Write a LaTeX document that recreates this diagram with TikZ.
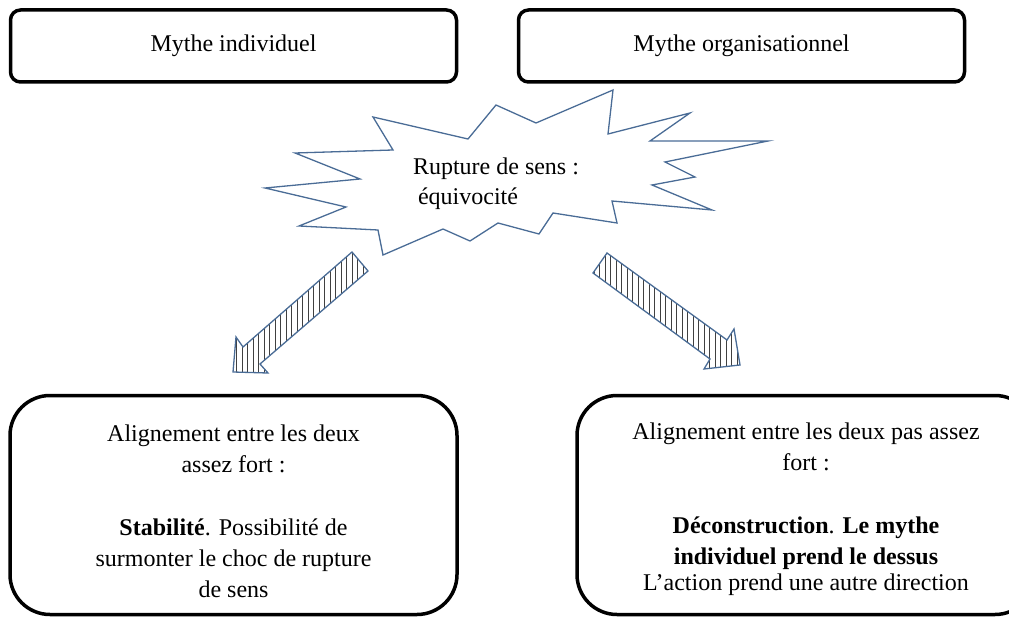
\documentclass[tikz,border=0pt]{standalone}
\usepackage{fontspec}
\setmainfont{Liberation Serif}
\usetikzlibrary{patterns.meta}
\definecolor{burstblue}{RGB}{74,108,150}
\begin{document}
\begin{tikzpicture}[x=1pt,y=-1pt,
  mythbox/.style={draw=black,line width=3.5pt,rounded corners=10pt,minimum width=446pt,minimum height=72pt,font=\fontsize{24}{28}\selectfont},
  outbox/.style={draw=black,line width=3.5pt,rounded corners=40pt,minimum height=219pt},
  outtext/.style={align=center,font=\fontsize{24}{31}\selectfont},
  burst/.style={draw=burstblue,line width=1.3pt,line join=miter},
  blockarrow/.style={draw=burstblue,line width=1.3pt,pattern={Lines[angle=90,distance=5.5pt,line width=1pt]},pattern color=black!75}]
\clip (0,0) rectangle (1009,617);
% les deux mythes
\node[mythbox] (indiv) at (233.5,46) {Mythe individuel};
\node[mythbox] (orga) at (741.5,46) {Mythe organisationnel};
% rupture
\draw[burst] (373,117)--(468,139)--(496,105)--(536,123)--(613,90)--(608,134)--(690,113)--(650,141)
  --(768,141)--(665,162)--(695,177)--(652,185)--(712,210)--(612,201)--(617,223)--(553,213)--(539,234)
  --(498,223)--(470,241)--(443,229)--(383,255)--(378,230)--(299,226)--(346,207)--(265,188)--(360,179)
  --(295,153)--(393,150)--cycle;
\node[align=left,font=\fontsize{24}{30}\selectfont] (rupture) at (496,184) {Rupture de sens :\\\hspace{5pt}équivocité};
% fleches
\draw[blockarrow] (352,252)--(368,271)--(260,364)--(268,373)--(233,372)--(236,337)--(243,347)--cycle;
\draw[blockarrow] (607,253)--(727,340)--(734,329)--(740,365)--(704,369)--(710,359)--(593,273)--cycle;
% issues
\node[outbox,minimum width=447pt] (stab) at (233.5,505) {};
\node[outtext] (stabtxt) at (233.5,511) {Alignement entre les deux\\assez fort :\\[32pt]
  \textbf{Stabilité}. Possibilité de\\surmonter le choc de rupture\\de sens};
\node[outbox,minimum width=458pt] (decon) at (806,505) {};
\node[outtext] (decontxt) at (806,509) {Alignement entre les deux pas assez\\fort :\\[32pt]
  \textbf{Déconstruction}. \textbf{Le mythe}\\\textbf{individuel prend le dessus}\\[-5pt]L’action prend une autre direction};
\end{tikzpicture}
\end{document}
